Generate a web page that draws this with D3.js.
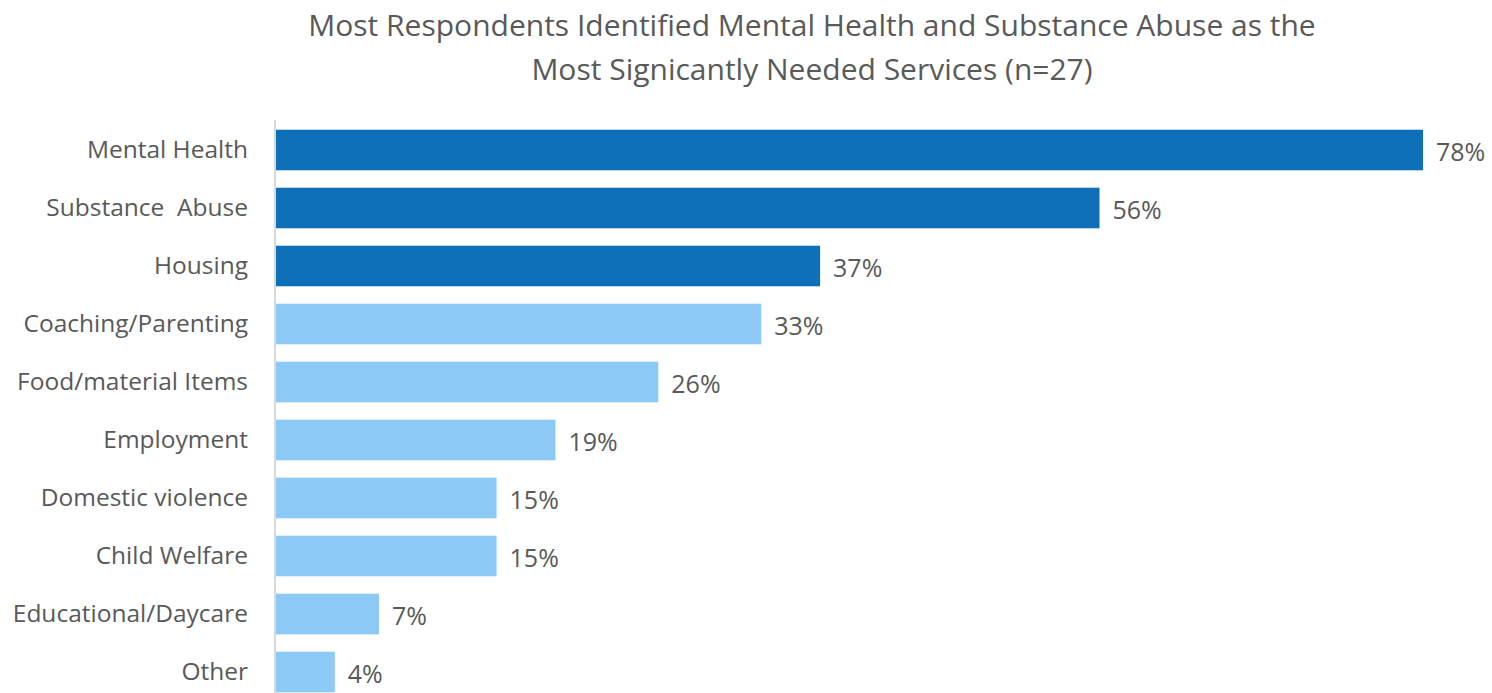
<!DOCTYPE html>
<html>
<head>
<meta charset="utf-8">
<script src="https://cdn.jsdelivr.net/npm/d3@7"></script>
<style>
  body { margin: 0; background: #fff; }
  text { font-family: "Open Sans", sans-serif; fill: #595959; white-space: pre; }
</style>
</head>
<body>
<div class="chart"></div>
<script>
const categories = ['Mental Health', 'Substance  Abuse', 'Housing', 'Coaching/Parenting',
  'Food/material Items', 'Employment', 'Domestic violence', 'Child Welfare',
  'Educational/Daycare', 'Other'];
const values = [78, 56, 37, 33, 26, 19, 15, 15, 7, 4];
const highlighted = ['Mental Health', 'Substance  Abuse', 'Housing'];
const titleLines = ['Most Respondents Identified Mental Health and Substance Abuse as the',
  'Most Signicantly Needed Services (n=27)'];

const W = 1492, H = 693;
const margin = {top: 121, right: 69, bottom: 0, left: 276};

const svg = d3.select('.chart')
  .append('svg')
  .attr('width', W)
  .attr('height', H);

// title
svg.append('g')
  .selectAll('text')
  .data(titleLines)
  .enter()
  .append('text')
  .attr('x', 812)
  .attr('y', (d, i) => 36 + i * 44)
  .attr('text-anchor', 'middle')
  .style('font-size', '30px')
  .text(d => d);

const data = categories.map((c, i) => ({name: c, value: values[i]}));

const xScale = d3.scaleLinear()
  .domain([0, 78])
  .range([margin.left, 1423]);

const yScale = d3.scaleBand()
  .domain(categories)
  .range([margin.top, H + 8])
  .paddingInner(0.3)
  .paddingOuter(0.15);

svg.selectAll('rect.bar')
  .data(data)
  .enter()
  .append('rect')
  .attr('class', 'bar')
  .attr('x', xScale(0))
  .attr('y', d => yScale(d.name))
  .attr('width', d => xScale(d.value) - xScale(0))
  .attr('height', yScale.bandwidth())
  .style('fill', d => highlighted.includes(d.name) ? '#0E70B8' : '#8CC9F6');

// axis line + category labels
const yAxis = d3.axisLeft(yScale).tickSize(0).tickPadding(27);
const gy = svg.append('g')
  .attr('transform', `translate(${margin.left - 1}, 0)`)
  .call(yAxis);
gy.select('.domain').remove();
gy.selectAll('text')
  .style('font-size', '24.5px')
  .style('font-family', '"Open Sans", sans-serif')
  .style('white-space', 'pre')
  .attr('fill', '#595959');

svg.append('line')
  .attr('x1', margin.left - 1).attr('x2', margin.left - 1)
  .attr('y1', margin.top - 1).attr('y2', H)
  .attr('stroke', '#d9d9d9')
  .attr('stroke-width', 2);

// value labels
svg.selectAll('text.val')
  .data(data)
  .enter()
  .append('text')
  .attr('class', 'val')
  .attr('x', d => xScale(d.value) + 13)
  .attr('y', d => yScale(d.name) + yScale.bandwidth() / 2 + 2)
  .attr('dy', '0.35em')
  .style('font-size', '25px')
  .text(d => d.value + '%');
</script>
</body>
</html>
